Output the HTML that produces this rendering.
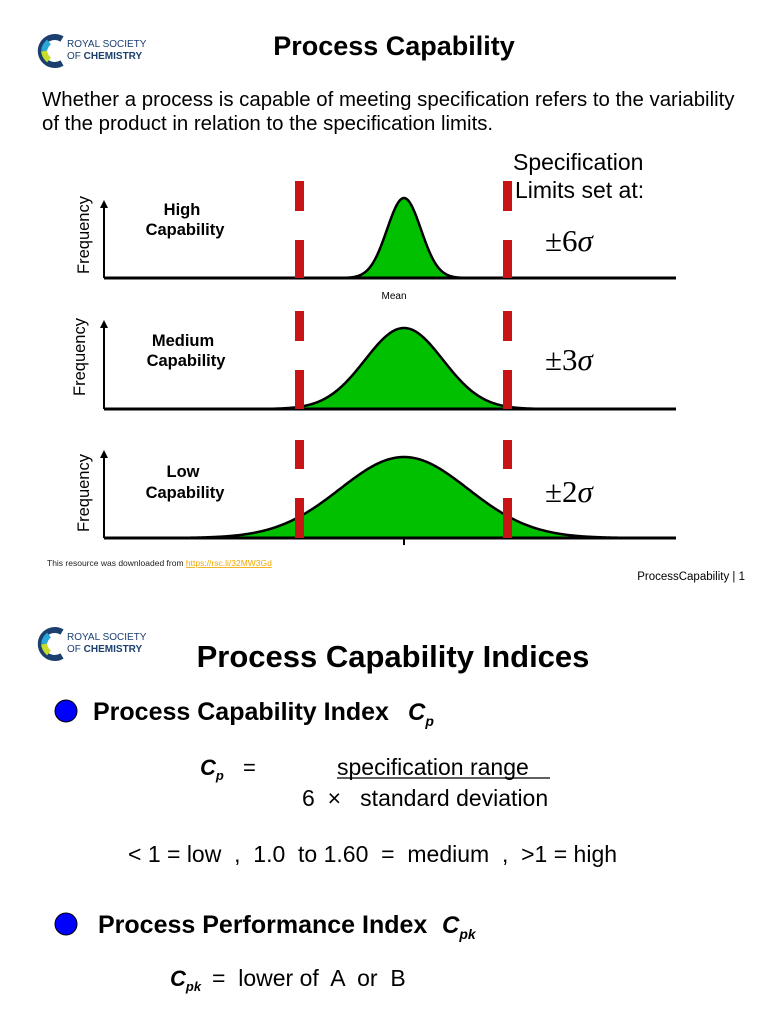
<!DOCTYPE html>
<html><head><meta charset="utf-8"><style>
html,body{margin:0;padding:0;background:#fff;}
svg{display:block;font-family:"Liberation Sans",Arial,sans-serif;}
</style></head><body>
<svg id="s" width="768" height="1024" viewBox="0 0 768 1024" xmlns="http://www.w3.org/2000/svg">
<rect width="768" height="1024" fill="#fff"/>
<g transform="translate(40,35)">
<path d="M22 4 A14 14 0 1 0 22 28" fill="none" stroke="#1b3f6e" stroke-width="6"/>
<path d="M9 7 A14 14 0 0 0 4 16" fill="none" stroke="#2aa7d8" stroke-width="6"/>
<path d="M4 16 A14 14 0 0 0 9 25" fill="none" stroke="#c8dc2a" stroke-width="6"/>
<text x="27" y="12" font-size="10" fill="#1b3f6e">ROYAL SOCIETY</text>
<text x="27" y="24" font-size="10" fill="#1b3f6e">OF <tspan font-weight="bold">CHEMISTRY</tspan></text>
</g>
<text x="394" y="55" font-size="27" font-weight="bold" text-anchor="middle">Process Capability</text>
<text x="42" y="106" font-size="20.4">Whether a process is capable of meeting specification refers to the variability</text>
<text x="42" y="130" font-size="20.4">of the product in relation to the specification limits.</text>
<text x="513" y="170" font-size="23">Specification</text>
<text x="515" y="198" font-size="23">Limits set at:</text>
<g font-family="'Liberation Serif',serif" font-size="31">
<text x="545" y="251">±6<tspan font-style="italic">σ</tspan></text>
<text x="545" y="370">±3<tspan font-style="italic">σ</tspan></text>
<text x="545" y="502">±2<tspan font-style="italic">σ</tspan></text>
</g>
<g id="charts"></g>
<g font-size="16.5" font-weight="bold" text-anchor="middle">
<text x="182" y="215">High</text><text x="185" y="235">Capability</text>
<text x="183" y="346">Medium</text><text x="186" y="366">Capability</text>
<text x="183" y="477">Low</text><text x="185" y="498">Capability</text>
</g>
<g font-size="16.5" text-anchor="middle">
<text transform="translate(89,235) rotate(-90)">Frequency</text>
<text transform="translate(85,357) rotate(-90)">Frequency</text>
<text transform="translate(89,493) rotate(-90)">Frequency</text>
</g>
<text x="394" y="299" font-size="10" text-anchor="middle">Mean</text>
<line x1="404" y1="538" x2="404" y2="545" stroke="#000" stroke-width="2"/>
<text x="47" y="566" font-size="8.5" fill="#222">This resource was downloaded from <tspan fill="#f0a800" text-decoration="underline">https://rsc.li/32MW3Gd</tspan></text>
<text x="745" y="580" font-size="11.5" text-anchor="end">ProcessCapability | 1</text>

<g transform="translate(40,628)">
<path d="M22 4 A14 14 0 1 0 22 28" fill="none" stroke="#1b3f6e" stroke-width="6"/>
<path d="M9 7 A14 14 0 0 0 4 16" fill="none" stroke="#2aa7d8" stroke-width="6"/>
<path d="M4 16 A14 14 0 0 0 9 25" fill="none" stroke="#c8dc2a" stroke-width="6"/>
<text x="27" y="12" font-size="10" fill="#1b3f6e">ROYAL SOCIETY</text>
<text x="27" y="24" font-size="10" fill="#1b3f6e">OF <tspan font-weight="bold">CHEMISTRY</tspan></text>
</g>
<text x="393" y="667" font-size="31" font-weight="bold" text-anchor="middle">Process Capability Indices</text>
<circle cx="66" cy="711" r="11" fill="#0000ff" stroke="#000" stroke-width="1"/>
<text x="93" y="720" font-size="25" font-weight="bold">Process Capability Index</text>
<text x="408" y="720" font-size="24" font-weight="bold" font-style="italic">C<tspan font-size="14" dy="6">p</tspan></text>
<text x="200" y="775" font-size="22" font-weight="bold" font-style="italic">C<tspan font-size="13" dy="5">p</tspan></text>
<text x="243" y="775" font-size="22">=</text>
<text x="337" y="775" font-size="23">specification range</text>
<line x1="337" y1="778" x2="550" y2="778" stroke="#000" stroke-width="1.3"/>
<text x="302" y="806" font-size="23" xml:space="preserve">6  ×   standard deviation</text>
<text x="128" y="862" font-size="23" xml:space="preserve">&lt; 1 = low  ,  1.0  to 1.60  =  medium  ,  &gt;1 = high</text>
<circle cx="66" cy="924" r="11" fill="#0000ff" stroke="#000" stroke-width="1"/>
<text x="98" y="933" font-size="25" font-weight="bold">Process Performance Index</text>
<text x="442" y="933" font-size="24" font-weight="bold" font-style="italic">C<tspan font-size="14" dy="6">pk</tspan></text>
<text x="170" y="986" font-size="22" font-weight="bold" font-style="italic">C<tspan font-size="13" dy="5">pk</tspan></text>
<text x="212" y="986" font-size="23" xml:space="preserve">=  lower of  A  or  B</text>
</svg>
<script>
var g=document.getElementById('charts'),NS='http://www.w3.org/2000/svg';
function el(t,a){var e=document.createElementNS(NS,t);for(var k in a)e.setAttribute(k,a[k]);g.appendChild(e);return e;}
var P=[{b:278,top:200,h:80,s:17,r1:[181,211],r2:[240,278]},
{b:409,top:320,h:81,s:39,r1:[311,341],r2:[370,409]},
{b:538,top:450,h:81,s:64,r1:[440,469],r2:[498,538]}];
P.forEach(function(p){
var x0=Math.max(110,404-4*p.s),x1=Math.min(670,404+4*p.s);
var d='M'+x0+' '+p.b;
for(var x=x0;x<=x1;x+=1){var y=p.b-p.h*Math.exp(-Math.pow((x-404)/p.s,2)/2);d+=' L'+x.toFixed(1)+' '+y.toFixed(2);}
el('path',{d:d+' Z',fill:'#00c000',stroke:'#000','stroke-width':2.5,'stroke-linejoin':'round'});
el('line',{x1:104,y1:p.b,x2:676,y2:p.b,stroke:'#000','stroke-width':3});
el('line',{x1:104,y1:p.b,x2:104,y2:p.top+6,stroke:'#000','stroke-width':2});
el('path',{d:'M100 '+(p.top+8)+' L104 '+p.top+' L108 '+(p.top+8)+' Z',fill:'#000'});
[295,503].forEach(function(x){
el('rect',{x:x,y:p.r1[0],width:9,height:p.r1[1]-p.r1[0],fill:'#c81414'});
el('rect',{x:x,y:p.r2[0],width:9,height:p.r2[1]-p.r2[0],fill:'#c81414'});});
});
</script>
</body></html>
